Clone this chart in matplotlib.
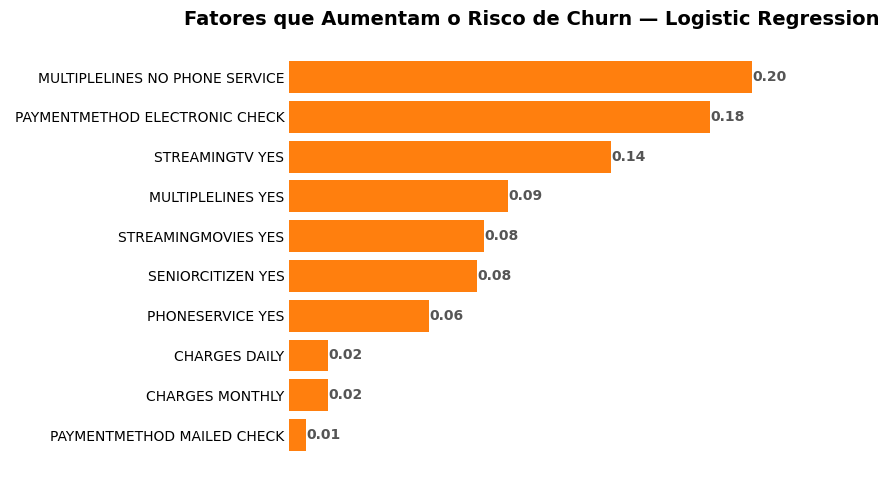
import matplotlib
matplotlib.use("Agg")
import matplotlib.pyplot as plt

features = ["MULTIPLELINES NO PHONE SERVICE", "PAYMENTMETHOD ELECTRONIC CHECK",
            "STREAMINGTV YES", "MULTIPLELINES YES", "STREAMINGMOVIES YES",
            "SENIORCITIZEN YES", "PHONESERVICE YES", "CHARGES DAILY",
            "CHARGES MONTHLY", "PAYMENTMETHOD MAILED CHECK"]
coefs = [0.200, 0.182, 0.139, 0.0946, 0.0842, 0.0812, 0.0605, 0.0168, 0.0168, 0.0073]

fig, ax = plt.subplots(figsize=(8.9, 4.9), dpi=100)
fig.subplots_adjust(left=0.325, right=0.871, top=0.915, bottom=0.04)

# plot bottom-up so the largest sits on top
bars = ax.barh(features[::-1], coefs[::-1], color="#ff7f0e")
for b, v in zip(bars, coefs[::-1]):
    ax.text(b.get_width(), b.get_y() + b.get_height() / 2, f"{v:.2f}",
            va="center", ha="left", fontsize=10, fontweight="bold", color="#555555")

ax.set_title("Fatores que Aumentam o Risco de Churn — Logistic Regression",
             fontsize=14, fontweight="bold", pad=12)
ax.set_xticks([])
ax.tick_params(axis="y", length=0)
for s in ax.spines.values():
    s.set_visible(False)

fig.savefig("out.png")
